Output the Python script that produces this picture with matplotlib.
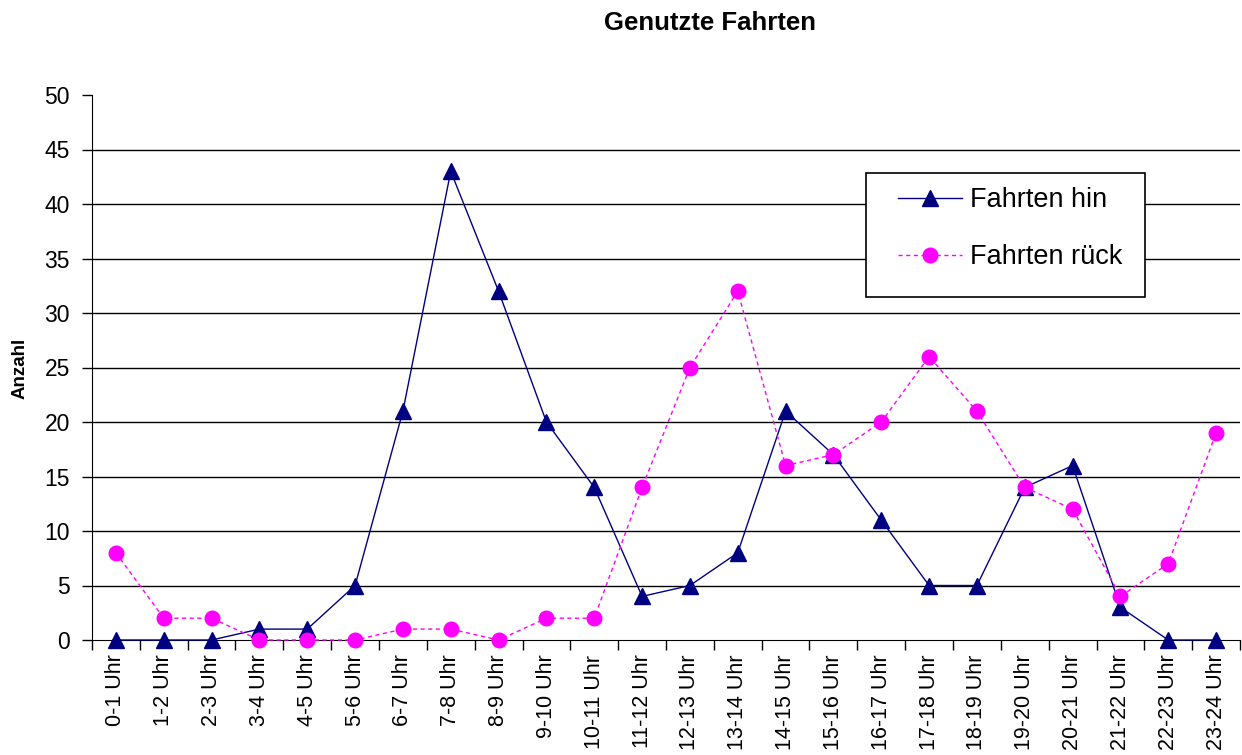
import numpy as np
import matplotlib
matplotlib.use('Agg')
import matplotlib.pyplot as plt
from matplotlib.patches import Rectangle
from matplotlib.ticker import FixedLocator, NullFormatter

# ------------------------------------------------------------
# Data
# ------------------------------------------------------------
stunden = [f'{h}-{h + 1} Uhr' for h in range(24)]
fahrten_hin = [0, 0, 0, 1, 1, 5, 21, 43, 32, 20, 14, 4,
               5, 8, 21, 17, 11, 5, 5, 14, 16, 3, 0, 0]
fahrten_rueck = [8, 2, 2, 0, 0, 0, 1, 1, 0, 2, 2, 14,
                 25, 32, 16, 17, 20, 26, 21, 14, 12, 4, 7, 19]
y_ticks = list(range(0, 55, 5))

plt.rcParams['font.family'] = ['Liberation Sans', 'DejaVu Sans']

W, H = 1242, 755
fig = plt.figure(figsize=(W / 100, H / 100), dpi=100)
ax = fig.add_axes([92 / W, 1 - 640 / H, (1240 - 92) / W, (640 - 95) / H])

x = np.arange(len(stunden))

# horizontal gridlines (none at the top)
for y in y_ticks[1:-1]:
    ax.axhline(y, color='black', linewidth=1.0, zorder=1)

ax.plot(x, fahrten_hin, color='#000080', linewidth=1.0, marker='^',
        markersize=11, label='Fahrten hin', zorder=3, clip_on=False)
ax.plot(x, fahrten_rueck, color='#FF00FF', linewidth=1.0, linestyle=(0, (3, 2.5)),
        marker='o', markersize=10.5, label='Fahrten rück', zorder=3, clip_on=False)

ax.set_xlim(-0.5, len(stunden) - 0.5)
ax.set_ylim(0, 50)
ax.set_yticks(y_ticks)
ax.tick_params(axis='y', labelsize=16.5, length=7, width=1, direction='out', pad=9)

# category labels at centres, tick marks at the boundaries
ax.set_xticks(x)
ax.set_xticklabels(stunden, rotation=90, fontsize=15.5)
ax.tick_params(axis='x', which='major', length=0, pad=10.5)
ax.xaxis.set_minor_locator(FixedLocator(np.arange(-0.5, len(stunden), 1.0)))
ax.xaxis.set_minor_formatter(NullFormatter())
ax.tick_params(axis='x', which='minor', length=7, width=1, direction='out')

ax.spines['top'].set_visible(False)
ax.spines['right'].set_visible(False)

fig.text(20 / W, 1 - 368 / H, 'Anzahl', rotation=90, fontsize=13.5,
         fontweight='bold', ha='center', va='center')
fig.text(710 / W, 1 - 23 / H, 'Genutzte Fahrten', fontsize=18.5,
         fontweight='bold', ha='center', va='center')

# legend box drawn separately so the padding can differ per side
ax.add_patch(Rectangle((866 / W, 1 - 297 / H), (1145 - 866) / W, (297 - 173) / H,
                       transform=fig.transFigure, facecolor='white',
                       edgecolor='black', linewidth=1.2, zorder=4, clip_on=False))
leg = ax.legend(loc='upper left', bbox_to_anchor=(898 / W, 1 - 187 / H),
                bbox_transform=fig.transFigure, fontsize=19.5, frameon=False,
                handlelength=2.37, borderpad=0, labelspacing=1.15,
                handletextpad=0.3, borderaxespad=0)
leg.set_zorder(5)

fig.savefig('out.png', dpi=100)
